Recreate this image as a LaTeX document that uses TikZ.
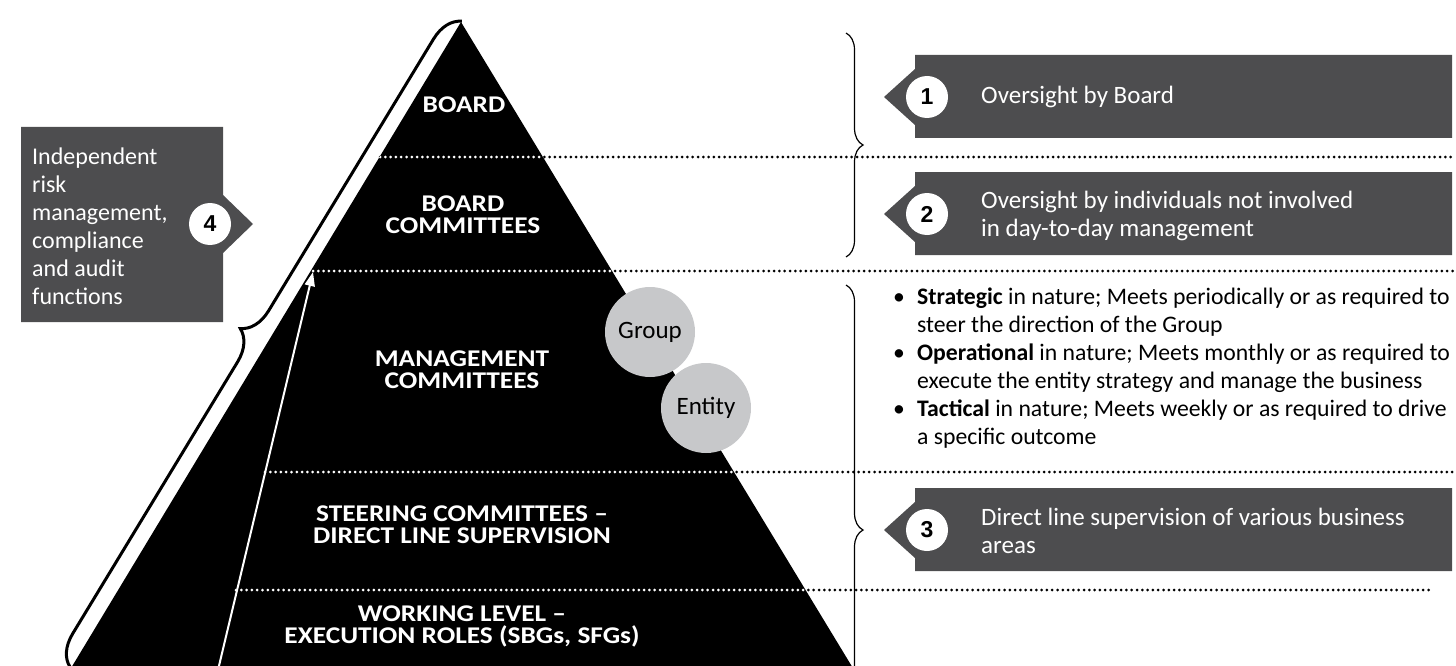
\documentclass[tikz,border=0pt]{standalone}
\usepackage{fontspec}
\setmainfont{Carlito}
\newfontfamily\lvlfont{Carlito}[FakeStretch=1.14]
\newfontfamily\numfont{Liberation Sans}
\usetikzlibrary{decorations.pathreplacing,arrows.meta}
\definecolor{boxgray}{RGB}{77,77,79}
\definecolor{ballgray}{RGB}{199,200,202}
\newcommand{\bul}{\makebox[24pt][l]{\textbullet}}
\newcommand{\ind}{\hspace*{24pt}}

\begin{document}
\begin{tikzpicture}[x=1pt,y=-1pt,
	lvl/.style={text=white,font=\lvlfont\fontsize{24}{22}\selectfont\bfseries,align=center},
	boxtext/.style={text=white,font=\fontsize{25}{28}\selectfont,align=left,anchor=west,inner sep=0pt},
	num/.style={circle,fill=white,minimum size=42pt,inner sep=0pt,font=\numfont\fontsize{23}{23}\selectfont\bfseries},
	ball/.style={circle,fill=ballgray,minimum size=90pt,inner sep=0pt,font=\fontsize{25}{25}\selectfont},
	dots/.style={line width=3pt,line cap=round,dash pattern=on 0pt off 5.3pt}]
		\clip (0,0) rectangle (1456,666);
		% pyramid
		\coordinate (apex) at (461,22);
		\coordinate (pl) at (59,688);
		\coordinate (pr) at (865,688);
		\fill[black] (apex) -- (pl) -- (pr) -- cycle;
		% level lines, black outside and white inside the pyramid
		\foreach \y/\xa/\xb in {157/380/1453, 271/313/1453, 472/265/1453, 590/236/1432}
			\draw[dots] (\xa,\y) -- (\xb,\y);
		\begin{scope}
			\clip (apex) -- (pl) -- (pr) -- cycle;
			\foreach \y/\xa/\xb in {157/380/1453, 271/313/1453, 472/265/1453, 590/236/1432}
				\draw[dots,white] (\xa,\y) -- (\xb,\y);
		\end{scope}
		% escalation arrow
		\coordinate (arA) at (218,670);
		\coordinate (arB) at (313,272);
		\draw[white,line width=2pt,-{Triangle[length=14pt,width=10pt]}] (arA) -- (arB);
		% braces
		\draw[line width=3pt,decorate,decoration={brace,amplitude=30pt}] (70,667) -- (462,21);
		\draw[line width=1.2pt,decorate,decoration={brace,amplitude=17pt}] (846,33) -- (846,257);
		\draw[line width=1.2pt,decorate,decoration={brace,amplitude=17pt}] (846,285) -- (846,775);
		% level names
		\node[lvl] (board) at (464,105) {BOARD};
		\node[lvl] (bcom) at (463,215) {BOARD\\COMMITTEES};
		\node[lvl] (mcom) at (462,370) {MANAGEMENT\\COMMITTEES};
		\node[lvl] (scom) at (462,525) {STEERING COMMITTEES \textendash\\DIRECT LINE SUPERVISION};
		\node[lvl] (work) at (462,626) {WORKING LEVEL \textendash\\EXECUTION ROLES (SBGs, SFGs)};
		\node[ball] (grp) at (650,332) {Group};
		\node[ball] (ent) at (706,408) {Entity};
		% numbered boxes
		\foreach \yc/\n in {97/1, 214/2, 530/3}{
			\fill[boxgray] (915,\yc-42) -- (1452,\yc-42) -- (1452,\yc+41) -- (915,\yc+41)
				-- (915,\yc+28) -- (884,\yc) -- (915,\yc-28) -- cycle;
			\node[num] (n\n) at (927,\yc) {\n};
		}
		\node[boxtext] (t1) at (981,97) {Oversight by Board};
		\node[boxtext] (t2) at (981,216) {Oversight by individuals not involved\\in day-to-day management};
		\node[boxtext] (t3) at (981,531) {Direct line supervision of various business\\areas};
		\fill[boxgray] (21,127) -- (223,127) -- (223,195) -- (253,224) -- (223,253) -- (223,322) -- (21,322) -- cycle;
		\node[num] (n4) at (210,224) {4};
		\node[boxtext,font=\fontsize{24}{28}\selectfont] (t4) at (32,226) {Independent\\risk\\management,\\compliance\\and audit\\functions};
		% committee notes
		\node[anchor=north west,inner sep=0pt,align=left,font=\fontsize{23.7}{28}\selectfont] (notes) at (893,288) {%
			\bul\textbf{Strategic} in nature; Meets periodically or as required to\\
			\ind steer the direction of the Group\\
			\bul\textbf{Operational} in nature; Meets monthly or as required to\\
			\ind execute the entity strategy and manage the business\\
			\bul\textbf{Tactical} in nature; Meets weekly or as required to drive\\
			\ind a specific outcome};
	\end{tikzpicture}
\end{document}
